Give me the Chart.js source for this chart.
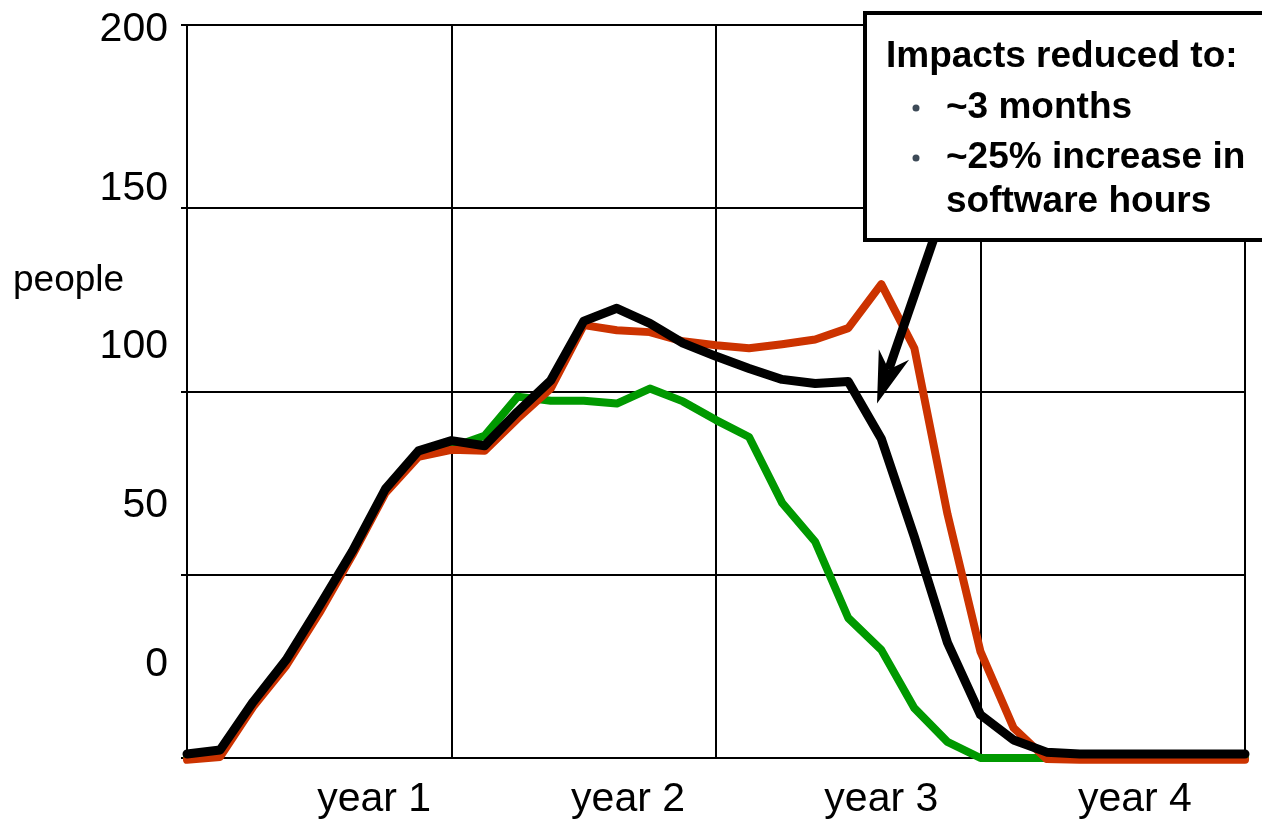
<!DOCTYPE html>
<html lang="en">
<head>
  <meta charset="UTF-8">
  <title>people per year</title>
  <script src="https://cdn.jsdelivr.net/npm/chart.js"></script>
  <style>
    body { margin: 0; background: #fff; }
    canvas { display: block; }
  </style>
</head>
<body>
  <canvas id="peopleChart" width="1262" height="819"></canvas>

  <script>
    // 33 points, 8 per year
    const steps = Array.from({ length: 33 }, (_, i) => i);

    const blackLine = [1.1, 2.2, 15.3, 26.8, 41.4, 56.4, 73.4, 83.8, 86.6, 85.2, 94.5, 103.0, 119.2, 122.7, 118.6, 113.2, 109.6,
      106.3, 103.3, 102.2, 102.7, 87.1, 60.3, 31.5, 11.8, 4.9, 1.6, 1.1, 1.1, 1.1, 1.1, 1.1, 1.1];
    const redLine = [-0.5, 0.3, 14.0, 25.2, 39.5, 55.3, 72.3, 82.2, 84.1, 83.8, 92.6, 100.8, 118.1, 116.7, 116.2, 113.7, 112.6,
      111.8, 112.9, 114.2, 117.3, 129.3, 111.8, 66.6, 29.0, 8.2, -0.3, -0.5, -0.5, -0.5, -0.5, -0.5, -0.5];
    const greenLine = [0, 1.2, 14.6, 26.0, 40.5, 55.8, 72.8, 82.5, 84.7, 87.9, 98.6, 97.5, 97.5, 96.7, 100.8, 97.3, 92.2,
      87.6, 69.6, 59.0, 38.2, 29.5, 13.6, 4.4, 0, 0, 0, 0, 0, 0, 0, 0, 0];

    const yTickValues = [0, 50, 100, 150, 200];
    const yearLabels = ["year 1", "year 2", "year 3", "year 4"];
    const yearPos = [5.66, 13.34, 21.0, 28.67];

    const boxLines = ["Impacts reduced to:", "~3 months", "~25% increase in", "software hours"];
    // arrow: tail and tip in data units
    const arrowFrom = { x: 22.6, y: 142 };
    const arrowTo = { x: 20.87, y: 96.7 };

    Chart.defaults.font.family = "'Liberation Sans', Arial, sans-serif";
    Chart.defaults.color = "#000";

    const toPoints = arr => arr.map((v, i) => ({ x: steps[i], y: v }));

    const calloutPlugin = {
      id: "callout",
      afterDraw(chart) {
        const c = chart.ctx;
        const sx = chart.scales.x, sy = chart.scales.y;
        c.save();

        // "people" label
        c.font = "37px 'Liberation Sans', Arial, sans-serif";
        c.fillStyle = "#000";
        c.textAlign = "left";
        c.textBaseline = "middle";
        c.fillText("people", 13, 281);

        // arrow
        const tx = sx.getPixelForValue(arrowTo.x), ty = sy.getPixelForValue(arrowTo.y);
        const fx = sx.getPixelForValue(arrowFrom.x), fy = sy.getPixelForValue(arrowFrom.y);
        const len = Math.hypot(tx - fx, ty - fy);
        const ux = (tx - fx) / len, uy = (ty - fy) / len;
        const nx = -uy, ny = ux;
        const notchX = tx - ux * 36, notchY = ty - uy * 36;
        c.strokeStyle = "#000";
        c.lineWidth = 9;
        c.beginPath();
        c.moveTo(fx, fy);
        c.lineTo(notchX, notchY);
        c.stroke();
        c.fillStyle = "#000";
        c.beginPath();
        c.moveTo(tx, ty);
        c.lineTo(tx - ux * 52 + nx * 16, ty - uy * 52 + ny * 16);
        c.lineTo(notchX, notchY);
        c.lineTo(tx - ux * 52 - nx * 16, ty - uy * 52 - ny * 16);
        c.closePath();
        c.fill();

        // box
        c.fillStyle = "#fff";
        c.fillRect(865, 13, 420, 227);
        c.strokeStyle = "#000";
        c.lineWidth = 4;
        c.strokeRect(865, 13, 420, 227);

        c.font = "bold 37px 'Liberation Sans', Arial, sans-serif";
        c.fillStyle = "#000";
        c.textBaseline = "middle";
        c.fillText(boxLines[0], 886, 57);
        c.fillText(boxLines[1], 946, 108);
        c.fillText(boxLines[2], 946, 158);
        c.fillText(boxLines[3], 946, 202);

        c.fillStyle = "#3d4a57";
        [108, 158].forEach(y => {
          c.beginPath();
          c.arc(916, y, 3.5, 0, Math.PI * 2);
          c.fill();
        });
        c.restore();
      }
    };

    const ctx = document.getElementById("peopleChart").getContext("2d");
    new Chart(ctx, {
      type: "line",
      data: {
        datasets: [
          { label: "black", data: toPoints(blackLine), borderColor: "#000000", borderWidth: 9 },
          { label: "red", data: toPoints(redLine), borderColor: "#cc3300", borderWidth: 8 },
          { label: "green", data: toPoints(greenLine), borderColor: "#009900", borderWidth: 8 }
        ].map(d => Object.assign(d, {
          pointRadius: 0, tension: 0, fill: false, clip: false,
          borderCapStyle: "round", borderJoinStyle: "round"
        }))
      },
      options: {
        responsive: false,
        animation: false,
        layout: { padding: { top: 25, right: 17, left: 0, bottom: 0 } },
        plugins: { legend: { display: false }, tooltip: { enabled: false } },
        scales: {
          x: {
            type: "linear", min: 0, max: 32,
            ticks: { display: false, stepSize: 8 },
            grid: { color: "#000", lineWidth: 2, drawTicks: false },
            border: { color: "#000", width: 2 },
            afterFit: s => { s.height = 0; }
          },
          xl: {
            type: "linear", position: "bottom", weight: 1, min: 0, max: 32,
            afterBuildTicks: s => { s.ticks = yearPos.map(v => ({ value: v })); },
            ticks: {
              font: { size: 41 }, color: "#000", padding: 17, maxRotation: 0, autoSkip: false,
              callback: (v, i) => yearLabels[i]
            },
            grid: { display: false, drawTicks: false },
            border: { display: false },
            afterFit: s => { s.height = 61; s.paddingLeft = 0; s.paddingRight = 0; }
          },
          y: {
            type: "linear", min: 0, max: 200,
            ticks: { display: false, stepSize: 50 },
            grid: { color: "#000", lineWidth: 2, drawTicks: true, tickLength: 6 },
            border: { color: "#000", width: 2 },
            afterFit: s => { s.width = 6; }
          },
          yl: {
            type: "linear", position: "left", weight: 1, min: -29.5, max: 201.5,
            afterBuildTicks: s => { s.ticks = yTickValues.map(v => ({ value: v })); },
            ticks: { font: { size: 41 }, color: "#000", padding: 13, callback: v => v },
            grid: { display: false, drawTicks: false },
            border: { display: false },
            afterFit: s => { s.width = 181; s.paddingTop = 0; s.paddingBottom = 0; }
          }
        }
      },
      plugins: [calloutPlugin]
    });
  </script>
</body>
</html>
